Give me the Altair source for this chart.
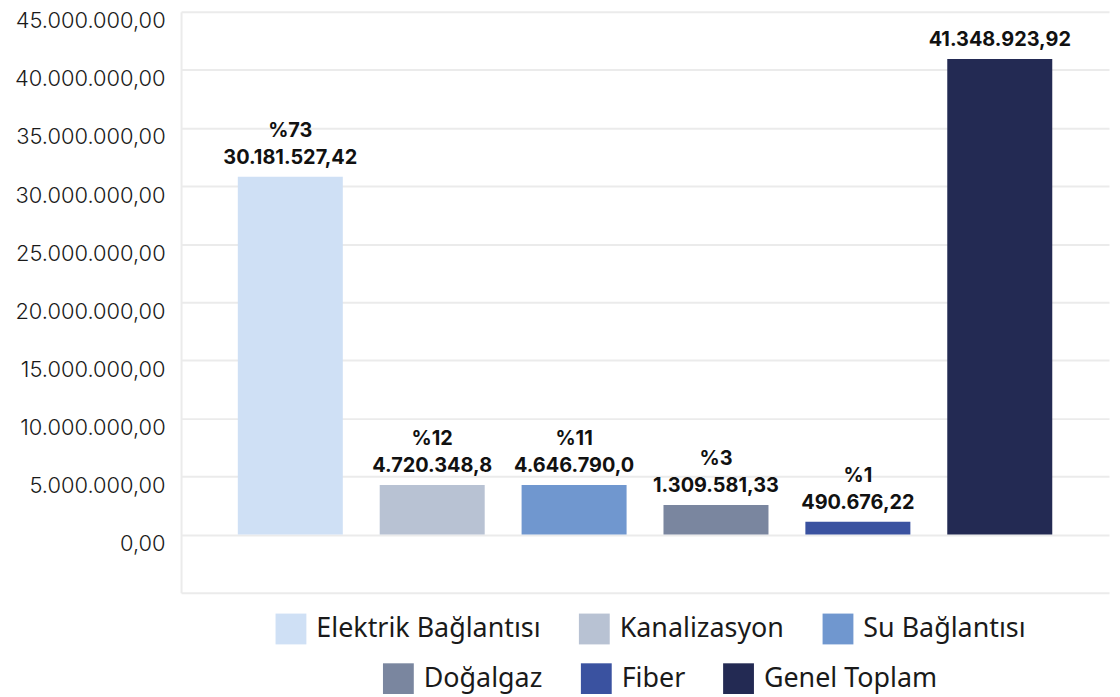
import altair as alt
import pandas as pd

# ---- data ----
categories = ["Elektrik Bağlantısı", "Kanalizasyon", "Su Bağlantısı",
              "Doğalgaz", "Fiber", "Genel Toplam"]
# bar heights as drawn in the picture
bar_values = [30800000, 4270000, 4270000, 2550000, 1100000, 40950000]
pct_labels = ["%73", "%12", "%11", "%3", "%1", ""]
value_labels = ["30.181.527,42", "4.720.348,8", "4.646.790,0",
                "1.309.581,33", "490.676,22", "41.348.923,92"]
colors = ["#cfe0f5", "#b8c2d3", "#7097cf", "#7a869f", "#3a52a0", "#232a53"]
y_ticks = [-5000000, 0, 5000000, 10000000, 15000000, 20000000,
           25000000, 30000000, 35000000, 40000000, 45000000]

df = pd.DataFrame({"cat": categories, "val": bar_values,
                   "pct": pct_labels, "vlabel": value_labels})

x_enc = alt.X("cat:N", sort=categories,
              scale=alt.Scale(domain=categories, paddingInner=0.26,
                              paddingOuter=0.40, range=[0, 933]),
              axis=None)
y_enc = alt.Y("val:Q",
              scale=alt.Scale(domain=[y_ticks[0], y_ticks[-1]], nice=False, zero=False),
              axis=alt.Axis(values=y_ticks, format=",.2f",
                            labelExpr="datum.value < 0 ? '' : datum.label",
                            title=None, ticks=False, labelPadding=16,
                            labelFont="Inter", labelFontSize=22, labelFontWeight=300,
                            labelColor="#1a1a1a", labelOffset=9,
                            grid=True, gridColor="#ebebeb", gridWidth=2,
                            domain=True, domainColor="#ebebeb", domainWidth=2))

def legend(x, y):
    return alt.Legend(title=None, orient="none", legendX=x, legendY=y,
                      direction="horizontal", symbolType="square", symbolSize=961,
                      symbolStrokeWidth=0, symbolOpacity=1, labelFont="Noto Sans",
                      labelFontSize=27, labelColor="#1a1a1a", labelOffset=10,
                      columnPadding=38, padding=0, labelLimit=500)

base = alt.Chart(df)

bars1 = base.mark_bar().encode(
    x=x_enc, y=y_enc,
    color=alt.Color("cat:N", scale=alt.Scale(domain=categories[:3], range=colors[:3]),
                    legend=legend(95, 605)),
).transform_filter(alt.FieldOneOfPredicate(field="cat", oneOf=categories[:3]))

bars2 = base.mark_bar().encode(
    x=x_enc, y=y_enc,
    color=alt.Color("cat:N", scale=alt.Scale(domain=categories[3:], range=colors[3:]),
                    legend=legend(203, 655)),
).transform_filter(alt.FieldOneOfPredicate(field="cat", oneOf=categories[3:]))

text_style = dict(baseline="bottom", font="Inter", fontWeight="bold",
                  fontSize=20, color="#111111")

value_text = base.mark_text(dy=-9, **text_style).encode(
    x=x_enc, y=alt.Y("val:Q"), text="vlabel:N")
pct_text = base.mark_text(dy=-36, **text_style).encode(
    x=x_enc, y=alt.Y("val:Q"), text="pct:N")

chart = alt.layer(bars1, bars2, value_text, pct_text).resolve_scale(
    color="independent").properties(
    width=936, height=584,
    autosize=alt.AutoSizeParams(type="none"),
    padding={"left": 174, "top": 2, "right": 0, "bottom": 100},
).configure(
    locale=alt.Locale(number=alt.NumberLocale(decimal=",", thousands=".",
                                              grouping=[3], currency=["", ""]))
).configure_view(stroke=None)

chart.save("out.html", embed_options={"renderer": "svg", "actions": False})
